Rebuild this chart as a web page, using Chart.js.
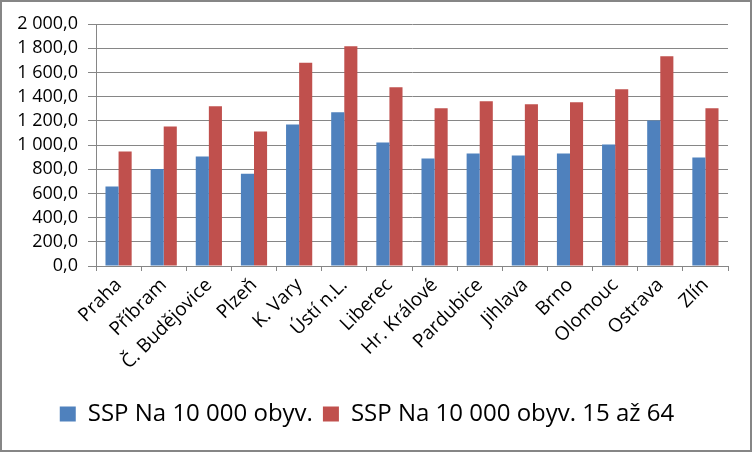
<!DOCTYPE html>
<html>
<head>
<meta charset="utf-8">
<script src="https://cdn.jsdelivr.net/npm/chart.js@4"></script>
<style>
    html, body { margin: 0; padding: 0; background: #fff; }
    canvas { display: block; }
</style>
</head>
<body>
<canvas id="chart" width="752" height="452"></canvas>
<script>
// Data
const categories = ['Praha', 'Příbram', 'Č. Budějovice', 'Plzeň', 'K. Vary', 'Ústí n.L.', 'Liberec',
    'Hr. Králové', 'Pardubice', 'Jihlava', 'Brno', 'Olomouc', 'Ostrava', 'Zlín'];
const perPopulation = [658, 802, 905, 763, 1170, 1270, 1021, 888, 929, 913, 929, 1004, 1203, 896];
const perWorkingAge = [946, 1153, 1320, 1112, 1679, 1817, 1477, 1303, 1361, 1336, 1353, 1461, 1734, 1303];
const seriesNames = ['SSP Na 10 000 obyv.', 'SSP Na 10 000 obyv. 15 až 64'];
const yTicks = [0, 200, 400, 600, 800, 1000, 1200, 1400, 1600, 1800, 2000];

const GREY = '#868686';
const FONT = "'Open Sans', sans-serif";

// Czech style number: "1 800,0"
function formatCz(value) {
    const [intPart, dec] = Number(value).toFixed(1).split('.');
    return intPart.replace(/\B(?=(\d{3})+(?!\d))/g, ' ') + ',' + dec;
}

// grey frame round the whole picture
const framePlugin = {
    id: 'frame',
    afterDraw(chart) {
        const { ctx } = chart;
        ctx.save();
        ctx.strokeStyle = GREY;
        ctx.lineWidth = 2;
        ctx.strokeRect(1, 1, chart.width - 2, chart.height - 2);
        ctx.restore();
    },
};

new Chart(document.getElementById('chart'), {
    type: 'bar',
    data: {
        labels: categories,
        datasets: [
            {
                label: seriesNames[0],
                data: perPopulation,
                backgroundColor: '#4F81BD',
                barPercentage: 1.0,
                categoryPercentage: 0.58,
            },
            {
                label: seriesNames[1],
                data: perWorkingAge,
                backgroundColor: '#C0504D',
                barPercentage: 1.0,
                categoryPercentage: 0.58,
            },
        ],
    },
    options: {
        responsive: false,
        animation: false,
        devicePixelRatio: 1,
        layout: {
            padding: { left: 6, right: 24, top: 24, bottom: 16 },
        },
        plugins: {
            legend: {
                position: 'bottom',
                labels: {
                    color: '#000',
                    boxWidth: 16,
                    boxHeight: 15,
                    padding: 10,
                    font: { family: FONT, size: 24 },
                },
            },
            tooltip: { enabled: false },
        },
        scales: {
            x: {
                grid: {
                    display: true,
                    drawOnChartArea: false,
                    drawTicks: true,
                    tickLength: 5,
                    color: GREY,
                },
                border: { display: true, color: GREY, width: 1 },
                ticks: {
                    color: '#000',
                    minRotation: 45,
                    maxRotation: 45,
                    autoSkip: false,
                    padding: 3,
                    font: { family: FONT, size: 19 },
                },
                afterFit: (scale) => { scale.height = 126; },
            },
            y: {
                min: 0,
                max: 2000,
                afterBuildTicks: (scale) => {
                    scale.ticks = yTicks.map((v) => ({ value: v }));
                },
                grid: {
                    color: GREY,
                    drawTicks: true,
                    tickLength: 8,
                },
                border: { display: true, color: GREY, width: 1 },
                ticks: {
                    color: '#000',
                    autoSkip: false,
                    padding: 10,
                    font: { family: FONT, size: 18 },
                    callback: (value) => formatCz(value),
                },
                afterFit: (scale) => { scale.width = 90; },
            },
        },
    },
    plugins: [framePlugin],
});
</script>
</body>
</html>
